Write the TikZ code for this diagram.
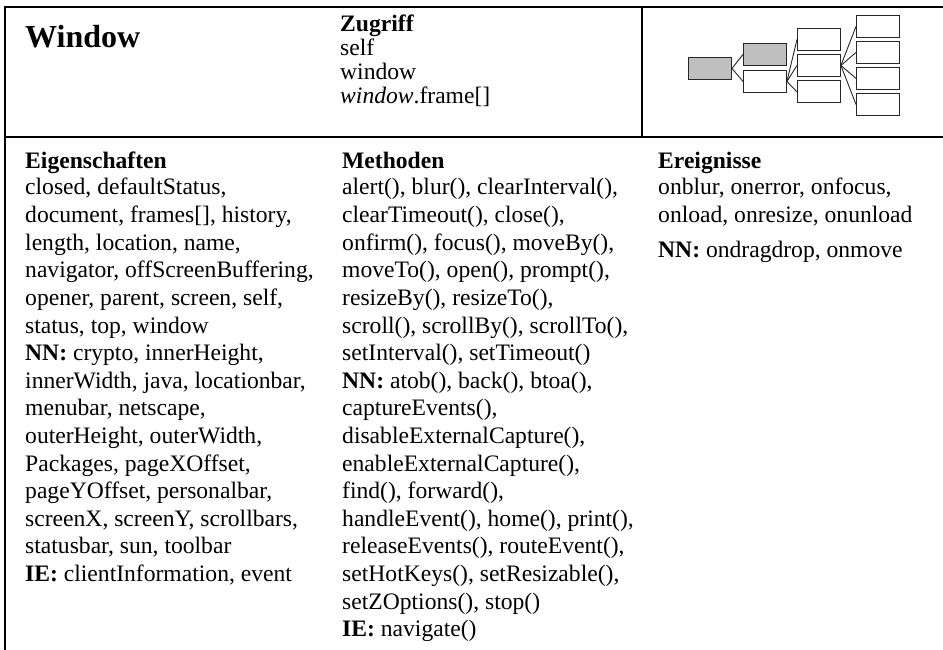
\documentclass[tikz,border=0pt]{standalone}
\usepackage{fontspec}
\setmainfont{Liberation Serif}
\begin{document}
\begin{tikzpicture}[x=1pt,y=-1pt,
  rule/.style={line width=2.6pt,line cap=rect},
  txt/.style={anchor=base west,inner sep=0pt,font=\fontsize{23.6}{26.5}\selectfont},
  ttl/.style={anchor=base west,inner sep=0pt,font=\fontsize{32}{36}\selectfont\bfseries},
  tbox/.style={draw=black!85,line width=0.9pt,minimum width=43pt,minimum height=22pt,inner sep=0pt,anchor=north west},
  gbox/.style={tbox,fill=black!25},
  link/.style={draw=black!85,line width=0.9pt}]
\useasboundingbox (0,0) rectangle (943,650);
\def\ls{27.6}
% frame
\draw[rule] (5,7) -- (943,7);
\draw[rule] (5,137) -- (943,137);
\draw[rule] (5,7) -- (5,650);
\draw[rule] (642,7) -- (642,137);
% title
\node[ttl] (title) at (25,48) {Window};
% Zugriff
\node[txt] (zg) at (340,32) {\textbf{Zugriff}};
\node[txt] (zg1) at (340,56) {self};
\node[txt] (zg2) at (340,80) {window};
\node[txt] (zg3) at (340,104) {\textit{window}.frame[]};
% tree
\node[gbox] (a) at (688,57) {};
\node[gbox] (b) at (743,43) {};
\node[tbox] (c) at (743,70) {};
\node[tbox] (d1) at (797,28) {};
\node[tbox] (d2) at (797,54) {};
\node[tbox] (d3) at (797,80.5) {};
\node[tbox] (e1) at (856,15) {};
\node[tbox] (e2) at (856,41) {};
\node[tbox] (e3) at (856,67) {};
\node[tbox] (e4) at (856,93) {};
\draw[link] (a.east) -- (b.west);
\draw[link] (a.east) -- (c.west);
\draw[link] (c.east) -- (d1.west);
\draw[link] (c.east) -- (d2.west);
\draw[link] (c.east) -- (d3.west);
\draw[link] (d2.east) -- (e1.west);
\draw[link] (d2.east) -- (e2.west);
\draw[link] (d2.east) -- (e3.west);
\draw[link] (d2.east) -- (e4.west);
% Eigenschaften
\node[txt] (eh) at (25,168) {\textbf{Eigenschaften}};
\node[txt] (e01) at (25,{195+\ls*0}) {closed, defaultStatus,};
\node[txt] (e02) at (25,{195+\ls*1}) {document, frames[], history,};
\node[txt] (e03) at (25,{195+\ls*2}) {length, location, name,};
\node[txt] (e04) at (25,{195+\ls*3}) {navigator, offScreenBuffering,};
\node[txt] (e05) at (25,{195+\ls*4}) {opener, parent, screen, self,};
\node[txt] (e06) at (25,{195+\ls*5}) {status, top, window};
\node[txt] (e07) at (25,{195+\ls*6}) {\textbf{NN:} crypto, innerHeight,};
\node[txt] (e08) at (25,{195+\ls*7}) {innerWidth, java, locationbar,};
\node[txt] (e09) at (25,{195+\ls*8}) {menubar, netscape,};
\node[txt] (e10) at (25,{195+\ls*9}) {outerHeight, outerWidth,};
\node[txt] (e11) at (25,{195+\ls*10}) {Packages, pageXOffset,};
\node[txt] (e12) at (25,{195+\ls*11}) {pageYOffset, personalbar,};
\node[txt] (e13) at (25,{195+\ls*12}) {screenX, screenY, scrollbars,};
\node[txt] (e14) at (25,{195+\ls*13}) {statusbar, sun, toolbar};
\node[txt] (e15) at (25,{195+\ls*14}) {\textbf{IE:} clientInformation, event};
% Methoden
\node[txt] (mh) at (342,168) {\textbf{Methoden}};
\node[txt] (m01) at (342,{195+\ls*0}) {alert(), blur(), clearInterval(),};
\node[txt] (m02) at (342,{195+\ls*1}) {clearTimeout(), close(),};
\node[txt] (m03) at (342,{195+\ls*2}) {onfirm(), focus(), moveBy(),};
\node[txt] (m04) at (342,{195+\ls*3}) {moveTo(), open(), prompt(),};
\node[txt] (m05) at (342,{195+\ls*4}) {resizeBy(), resizeTo(),};
\node[txt] (m06) at (342,{195+\ls*5}) {scroll(), scrollBy(), scrollTo(),};
\node[txt] (m07) at (342,{195+\ls*6}) {setInterval(), setTimeout()};
\node[txt] (m08) at (342,{195+\ls*7}) {\textbf{NN:} atob(), back(), btoa(),};
\node[txt] (m09) at (342,{195+\ls*8}) {captureEvents(),};
\node[txt] (m10) at (342,{195+\ls*9}) {disableExternalCapture(),};
\node[txt] (m11) at (342,{195+\ls*10}) {enableExternalCapture(),};
\node[txt] (m12) at (342,{195+\ls*11}) {find(), forward(),};
\node[txt] (m13) at (342,{195+\ls*12}) {handleEvent(), home(), print(),};
\node[txt] (m14) at (342,{195+\ls*13}) {releaseEvents(), routeEvent(),};
\node[txt] (m15) at (342,{195+\ls*14}) {setHotKeys(), setResizable(),};
\node[txt] (m16) at (342,{195+\ls*15}) {setZOptions(), stop()};
\node[txt] (m17) at (342,{195+\ls*16}) {\textbf{IE:} navigate()};
% Ereignisse
\node[txt] (rh) at (658,168) {\textbf{Ereignisse}};
\node[txt] (r01) at (658,195) {onblur, onerror, onfocus,};
\node[txt] (r02) at (658,{195+\ls}) {onload, onresize, onunload};
\node[txt] (r03) at (658,257) {\textbf{NN:} ondragdrop, onmove};
\end{tikzpicture}
\end{document}
